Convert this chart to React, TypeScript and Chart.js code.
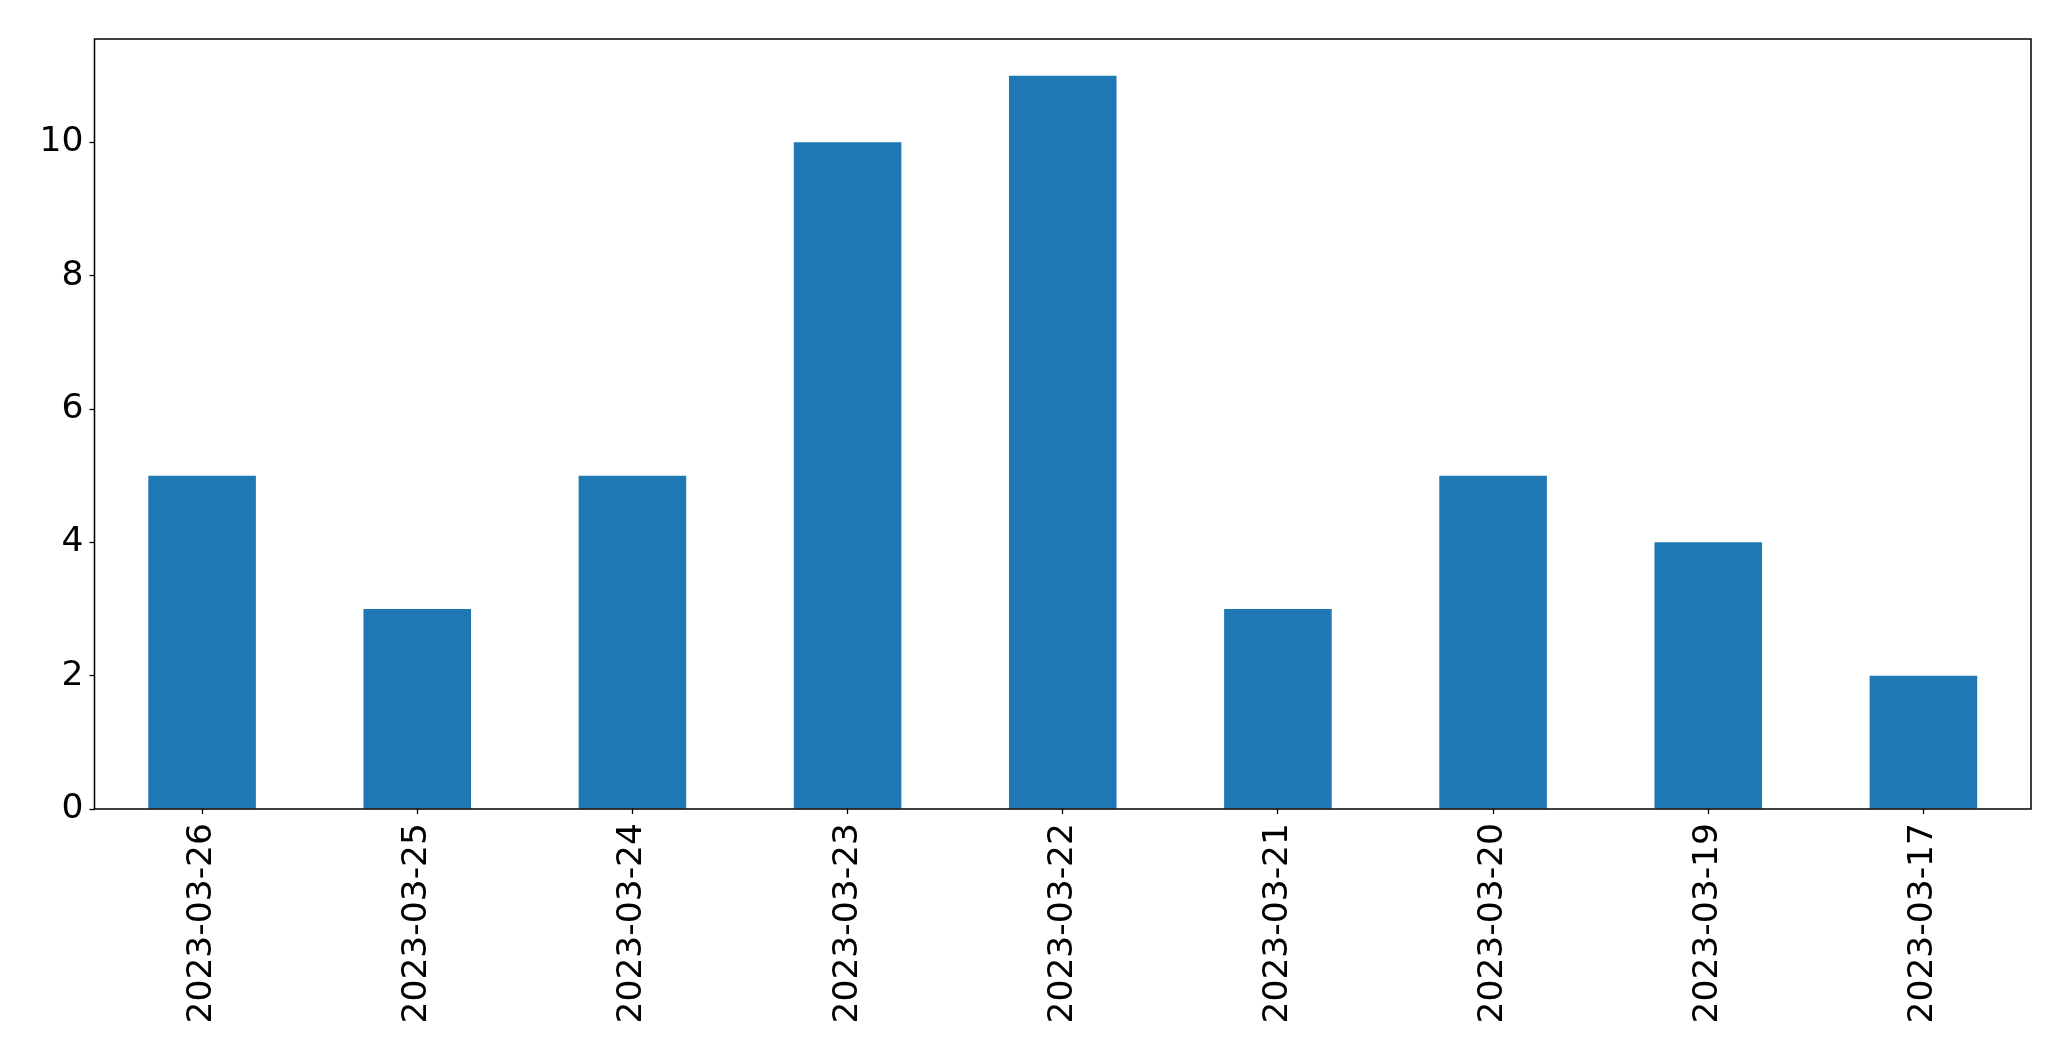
import React, { useEffect, useRef } from "react";
import { Chart, registerables } from "chart.js";

Chart.register(...registerables);

const categories = [
  "2023-03-26",
  "2023-03-25",
  "2023-03-24",
  "2023-03-23",
  "2023-03-22",
  "2023-03-21",
  "2023-03-20",
  "2023-03-19",
  "2023-03-17",
];
const values = [5, 3, 5, 10, 11, 3, 5, 4, 2];
const yTicks = [0, 2, 4, 6, 8, 10];

const W = 2071;
const H = 1061;
const FONT = "'DejaVu Sans', sans-serif";

const framePlugin = {
  id: "frame",
  afterDatasetsDraw(chart: any) {
    const { ctx, chartArea } = chart;
    ctx.save();
    ctx.strokeStyle = "#000";
    ctx.lineWidth = 1.5;
    ctx.strokeRect(chartArea.left, chartArea.top, chartArea.right - chartArea.left, chartArea.bottom - chartArea.top);
    ctx.restore();
  },
};

export default function App() {
  const ref = useRef<HTMLCanvasElement>(null);
  useEffect(() => {
    if (!ref.current) return;
    const chart = new Chart(ref.current, {
      type: "bar",
      data: {
        labels: categories,
        datasets: [
          {
            data: values,
            backgroundColor: "#1f77b4",
            borderWidth: 0,
            barPercentage: 0.5,
            categoryPercentage: 1,
          },
        ],
      },
      plugins: [framePlugin],
      options: {
        responsive: false,
        animation: false,
        devicePixelRatio: 1,
        layout: { padding: { top: 39, right: 40, left: 0, bottom: 0 } },
        plugins: { legend: { display: false }, tooltip: { enabled: false } },
        scales: {
          x: {
            offset: true,
            grid: {
              display: true,
              drawOnChartArea: false,
              drawTicks: true,
              tickLength: 5,
              tickWidth: 1.3,
              tickColor: "#000",
              offset: false,
            },
            border: { display: false },
            ticks: {
              autoSkip: false,
              maxRotation: 90,
              minRotation: 90,
              padding: 9,
              color: "#000",
              font: { family: FONT, size: 34.5 },
            },
            afterFit(scale: any) {
              scale.height = 252;
            },
          },
          y: {
            min: 0,
            max: 11.55,
            grid: {
              display: true,
              drawOnChartArea: false,
              drawTicks: true,
              tickLength: 5,
              tickWidth: 1.3,
              tickColor: "#000",
            },
            border: { display: false },
            ticks: {
              stepSize: 2,
              includeBounds: false,
              padding: 6,
              color: "#000",
              font: { family: FONT, size: 34.5 },
            },
            afterBuildTicks(scale: any) {
              scale.ticks = yTicks.map((v) => ({ value: v }));
            },
            afterFit(scale: any) {
              scale.width = 94.5;
            },
          },
        },
      },
    });
    return () => chart.destroy();
  }, []);
  return (
    <div style={{ position: "absolute", left: 0, top: 0, width: W, height: H, background: "#fff" }}>
      <canvas ref={ref} width={W} height={H} style={{ display: "block" }} />
    </div>
  );
}
